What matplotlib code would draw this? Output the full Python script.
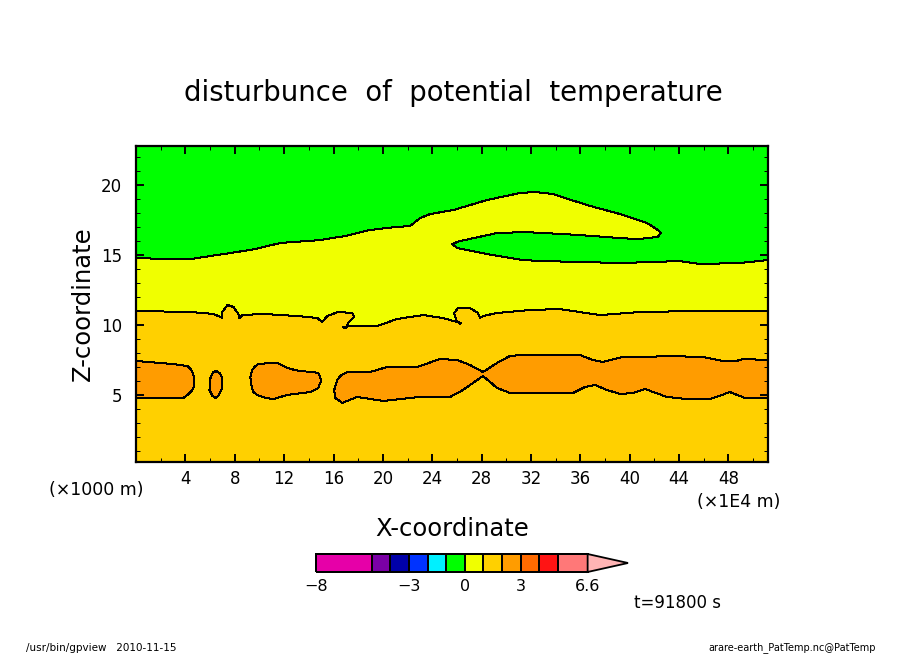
import numpy as np
import matplotlib
matplotlib.use('Agg')
import matplotlib.pyplot as plt
from matplotlib.colors import ListedColormap, BoundaryNorm

# contour outlines (x in 1E4 m, z in 1000 m)
upper_x = [0, 2.39, 4.41, 6.03, 7.65, 9.67, 11.69, 14.93, 16.95, 18.97, 21.0, 22.2, 23.02, 23.83, 25.69, 28.44, 31.11,
           32.32, 33.78, 36.53, 39.2, 41.38, 41.79, 42.27, 42.52, 42.27, 40.66, 39.2, 37.01, 34.59, 31.51, 29.25, 26.25,
           25.61, 26.01, 28.44, 31.35, 32.89, 39.2, 41.87, 44.05, 45.67, 48.91, 51.2]
upper_z = [14.79, 14.71, 14.71, 14.93, 15.14, 15.43, 15.86, 16.07, 16.36, 16.79, 17.0, 17.07, 17.64, 17.93, 18.21, 18.93, 19.43,
           19.5, 19.36, 18.57, 17.93, 17.29, 17.07, 16.79, 16.57, 16.29, 16.14, 16.21, 16.36, 16.5, 16.64, 16.57, 16.0,
           15.79, 15.5, 15.07, 14.64, 14.57, 14.43, 14.5, 14.57, 14.36, 14.43, 14.64]

middle_x = [0, 4.41, 6.27, 6.84, 7.0, 7.0, 7.4, 7.89, 8.29, 8.37, 8.62, 10.32, 13.07, 14.68, 15.09, 15.49, 16.38, 17.52,
            17.68, 17.19, 17.11, 19.54, 21.16, 23.26, 24.88, 26.01, 25.77, 26.09, 27.06, 27.71, 27.87, 28.11, 29.25,
            31.92, 34.34, 37.58, 40.82, 45.67, 51.2]
middle_z = [11.0, 10.93, 10.79, 10.57, 10.5, 10.93, 11.43, 11.29, 10.79, 10.5, 10.71, 10.79, 10.64, 10.5, 10.21, 10.64, 10.93, 10.86,
            10.57, 10.14, 9.93, 9.93, 10.43, 10.71, 10.5, 10.21, 10.86, 11.21, 11.21, 10.86, 10.5, 10.64, 10.86,
            11.07, 11.14, 10.71, 10.93, 11.0, 11.0]

island_x = [16.8, 17.1, 16.95, 16.8]
island_z = [9.85, 9.9, 9.75, 9.85]
speck_x = [26.15, 26.35, 26.25, 26.15]
speck_z = [10.2, 10.15, 10.05, 10.2]

blob1_x = [0, 3.03, 3.6, 4.17, 4.49, 4.65, 4.73, 4.73, 4.57, 4.17, 3.84, 0]
blob1_z = [7.43, 7.21, 7.14, 7.07, 6.79, 6.43, 6.07, 5.71, 5.36, 5.0, 4.79, 4.79]
blob2_x = [6.51, 6.76, 7.0, 7.0, 6.67, 6.43, 6.19, 5.95, 6.03, 6.27]
blob2_z = [6.71, 6.57, 6.21, 5.5, 4.93, 4.79, 4.93, 5.36, 6.21, 6.64]
blob3_x = [9.43, 9.59, 9.91, 10.88, 11.45, 11.93, 12.5, 13.31, 14.28, 14.77, 15.01, 14.77, 14.12, 12.26, 11.12, 10.48, 9.83, 9.51, 9.34, 9.26]
blob3_z = [6.79, 7.0, 7.21, 7.29, 7.29, 7.07, 6.86, 6.71, 6.64, 6.57, 6.07, 5.5, 5.21, 5.0, 4.71, 4.79, 5.0, 5.21, 5.71, 6.29]
blob4_x = [16.06, 16.3, 16.55, 17.11, 18.97, 20.35, 22.77, 24.64, 26.01, 27.06, 28.11, 29.25, 30.3, 31.35, 35.96, 37.01, 37.82,
           39.44, 41.38, 43.0, 45.91, 47.53, 48.66, 49.15, 51.2, 51.2, 49.32, 48.1, 47.05, 46.48, 44.62, 43.0, 41.22,
           40.25, 39.2, 38.15, 37.18, 36.37, 35.4, 30.3, 29.25, 28.11, 26.5, 25.45, 23.02, 20.02, 17.92, 16.71, 16.14]
blob4_z = [5.36, 6.07, 6.36, 6.64, 6.64, 7.0, 7.0, 7.57, 7.5, 7.14, 6.64, 7.29, 7.79, 7.86, 7.86, 7.5, 7.36,
           7.71, 7.71, 7.79, 7.71, 7.43, 7.43, 7.57, 7.5, 4.79, 4.79, 5.21, 4.86, 4.71, 4.71, 4.86, 5.43,
           5.14, 5.07, 5.36, 5.71, 5.57, 5.14, 5.14, 5.5, 6.36, 5.36, 4.86, 4.86, 4.57, 4.86, 4.43, 4.79]

x_ticks = [4, 8, 12, 16, 20, 24, 28, 32, 36, 40, 44, 48]
z_ticks = [5, 10, 15, 20]
levels = [-8, -5, -4, -3, -2, -1, 0, 1, 2, 3, 4, 5, 6.6]
level_labels = [-8, -3, 0, 3, 6.6]
level_colors = ['#E600A8', '#7A00A5', '#0000A8', '#0033FF', '#00F0FF', '#00FF00', '#F0FF00',
                '#FFD000', '#FF9C00', '#FF6A00', '#FF1414', '#FF7878']
over_color = '#FFB4B4'

GREEN = '#00FF00'
YELLOW = '#F0FF00'
AMBER = '#FFD000'
ORANGE = '#FF9C00'

W, H = 904, 654
fig = plt.figure(figsize=(W / 100, H / 100), dpi=100)


def px_axes(left, top, right, bottom):
    return fig.add_axes([left / W, 1 - bottom / H, (right - left) / W, (bottom - top) / H])


def px_text(x, y, s, size, **kw):
    kw.setdefault('ha', 'center')
    kw.setdefault('va', 'center')
    fig.text(x / W, 1 - y / H, s, fontsize=size, **kw)


ax = px_axes(136, 146, 768, 462)
ax.set_xlim(0, 51.2)
ax.set_ylim(0.21, 22.79)
ax.set_facecolor(GREEN)

zb = 0.21
ax.fill(upper_x + [51.2, 0], upper_z + [zb, zb], color=YELLOW, lw=0, antialiased=False)
ax.fill(middle_x + [51.2, 0], middle_z + [zb, zb], color=AMBER, lw=0, antialiased=False)
for bx, bz in [(blob1_x, blob1_z), (blob2_x, blob2_z), (blob3_x, blob3_z), (blob4_x, blob4_z)]:
    ax.fill(bx, bz, facecolor=ORANGE, edgecolor='black', lw=0.72, antialiased=False, closed=True)
for cx, cz in [(upper_x, upper_z), (middle_x, middle_z), (island_x, island_z), (speck_x, speck_z)]:
    ax.plot(cx, cz, color='black', lw=0.72, antialiased=False)

ax.set_xticks(x_ticks)
ax.set_yticks(z_ticks)
ax.set_xticks(np.arange(2, 51, 2), minor=True)
ax.set_yticks(np.arange(1, 23), minor=True)
ax.tick_params(which='major', direction='in', top=True, right=True, length=6, width=1.4)
ax.tick_params(which='minor', direction='in', top=True, right=True, length=3, width=0.72)
ax.tick_params(axis='x', which='major', labelsize=12, pad=6)
ax.tick_params(axis='y', which='major', labelsize=12, pad=10)
for s in ax.spines.values():
    s.set_linewidth(1.6)

# colour bar with the overflow triangle
cax = px_axes(316, 554, 628, 572)
cax.set_xlim(-8, 8.77)
cax.set_ylim(0, 1)
cax.axis('off')
cmap = ListedColormap(level_colors)
cax.pcolormesh(levels, [0, 1], np.array([levels[:-1]]) + 0.01, cmap=cmap,
               norm=BoundaryNorm(levels, cmap.N), edgecolors='black', linewidth=1.1, clip_on=False)
cax.fill([6.6, 8.77, 6.6], [1, 0.5, 0], facecolor=over_color, edgecolor='black', lw=1.3, clip_on=False)
for v in level_labels:
    cax.text(v, -0.78, str(v).replace('-', '\u2212'), ha='center', va='center', fontsize=11.5)

px_text(453, 93, 'disturbunce  of  potential  temperature', 19.8)
px_text(83, 304, 'Z-coordinate', 17.5, rotation=90)
px_text(452, 529, 'X-coordinate', 17.5)
px_text(96, 490, '(\u00d71000 m)', 12.5)
px_text(739, 502, '(\u00d71E4 m)', 12.5)
px_text(678, 603, 't=91800 s', 12)
px_text(101, 648, '/usr/bin/gpview   2010-11-15', 7.5)
px_text(792, 648, 'arare-earth_PatTemp.nc@PatTemp', 7)

fig.savefig('out.png', dpi=100)
